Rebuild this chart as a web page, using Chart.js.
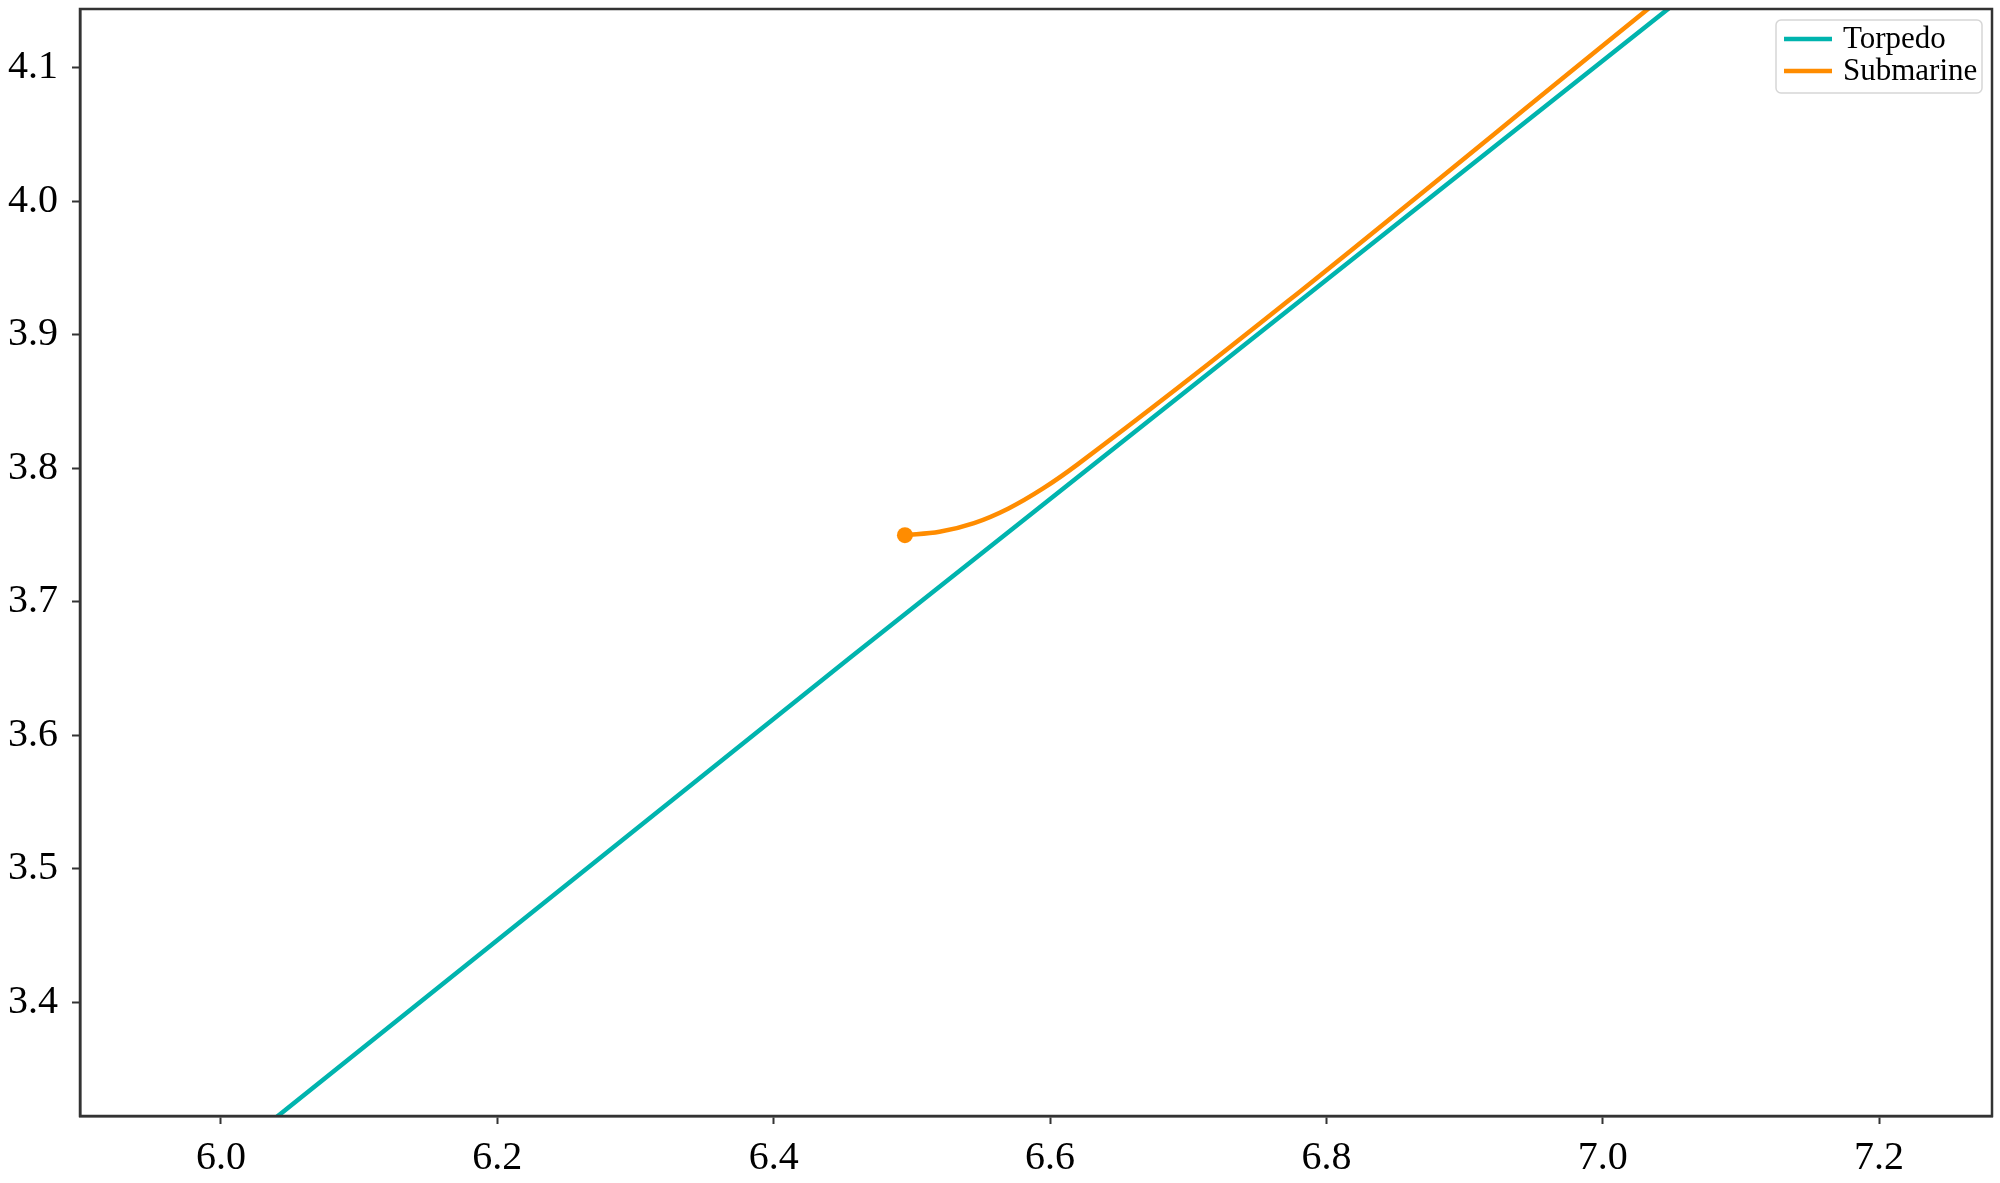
<!DOCTYPE html>
<html>
<head>
<meta charset="utf-8">
<script src="https://cdn.jsdelivr.net/npm/chart.js@4.4.1/dist/chart.umd.min.js"></script>
<style>
    html, body { margin: 0; padding: 0; background: #fff; }
    #wrap { width: 2000px; height: 1183px; position: relative; }
</style>
</head>
<body>
<div id="wrap"><canvas id="track-chart"></canvas></div>
<script>
// data

const torpedoX = [6.005, 6.455, 7.085];
const torpedoY = [3.285, 3.658, 4.175];

const submarineX = [6.495, 6.52, 6.545, 6.57, 6.595, 6.62, 7.076];
const submarineY = [3.750, 3.7525, 3.759, 3.770, 3.785, 3.803, 4.180];

const xTicks = [6.0, 6.2, 6.4, 6.6, 6.8, 7.0, 7.2];
const yTicks = [3.4, 3.5, 3.6, 3.7, 3.8, 3.9, 4.0, 4.1];

const seriesNames = ["Torpedo", "Submarine"];
const teal = '#00b4ae';
const orange = '#ff8c00';
const frameColor = '#333333';
const serif = "'Liberation Serif', 'Times New Roman', serif";

function toPoints(xs, ys) {
    return xs.map((x, i) => ({ x: x, y: ys[i] }));
}

// frame round the plot + legend inside top right
const framePlugin = {
    id: 'frame',
    afterDraw(chart) {
        const ctx = chart.ctx;
        const a = chart.chartArea;
        ctx.save();
        ctx.strokeStyle = frameColor;
        ctx.lineWidth = 2.5;
        ctx.strokeRect(a.left, a.top, a.right - a.left, a.bottom - a.top);

        // legend box
        const boxW = 206, boxH = 73;
        const bx = a.right - 10 - boxW;
        const by = a.top + 11;
        ctx.fillStyle = 'rgba(255,255,255,0.8)';
        ctx.strokeStyle = '#d6d6d6';
        ctx.lineWidth = 1.5;
        ctx.beginPath();
        ctx.roundRect(bx, by, boxW, boxH, 5);
        ctx.fill();
        ctx.stroke();

        ctx.font = '31px ' + serif;
        ctx.textBaseline = 'middle';
        chart.data.datasets.forEach((ds, i) => {
            const cy = by + 19 + i * 32;
            ctx.strokeStyle = ds.borderColor;
            ctx.lineWidth = 4.5;
            ctx.beginPath();
            ctx.moveTo(bx + 8, cy);
            ctx.lineTo(bx + 56, cy);
            ctx.stroke();
            ctx.fillStyle = '#000';
            ctx.fillText(ds.label, bx + 67, cy + 1);
        });
        ctx.restore();
    }
};

const trackCanvas = document.getElementById("track-chart");

let trackChart = new Chart(trackCanvas, {
    type: 'line',
    data: {
        datasets: [{
            label: seriesNames[0],
            data: toPoints(torpedoX, torpedoY),
            borderColor: teal,
            backgroundColor: teal,
            borderWidth: 4.5,
            pointRadius: 0,
            tension: 0
        }, {
            label: seriesNames[1],
            data: toPoints(submarineX, submarineY),
            borderColor: orange,
            backgroundColor: orange,
            borderWidth: 4.5,
            pointRadius: ctx => ctx.dataIndex === 0 ? 8 : 0,
            pointBorderWidth: 0,
            cubicInterpolationMode: 'monotone'
        }]
    },
    options: {
        responsive: true,
        maintainAspectRatio: false,
        animation: false,
        layout: {
            padding: { top: 9, right: 7, left: 0, bottom: 0 }
        },
        scales: {
            x: {
                type: 'linear',
                min: 5.898,
                max: 7.2817,
                afterBuildTicks: scale => {
                    scale.ticks = xTicks.map(v => ({ value: v }));
                },
                afterFit: scale => { scale.height = 67; },
                border: { display: true, color: frameColor, width: 2.5 },
                grid: {
                    display: true,
                    drawOnChartArea: false,
                    drawTicks: true,
                    tickLength: 8,
                    tickWidth: 2,
                    tickColor: frameColor
                },
                ticks: {
                    color: '#000',
                    padding: 10,
                    maxRotation: 0,
                    font: { family: serif, size: 40 },
                    callback: v => v.toFixed(1)
                }
            },
            y: {
                type: 'linear',
                min: 3.315,
                max: 4.144,
                afterBuildTicks: scale => {
                    scale.ticks = yTicks.map(v => ({ value: v }));
                },
                afterFit: scale => {
                    scale.width = 80;
                    scale.paddingTop = 0;
                    scale.paddingBottom = 0;
                },
                border: { display: true, color: frameColor, width: 2.5 },
                grid: {
                    display: true,
                    drawOnChartArea: false,
                    drawTicks: true,
                    tickLength: 8,
                    tickWidth: 2,
                    tickColor: frameColor
                },
                ticks: {
                    color: '#000',
                    padding: 14,
                    font: { family: serif, size: 40 },
                    callback: v => v.toFixed(1)
                }
            }
        },
        plugins: {
            legend: { display: false },
            tooltip: { enabled: false }
        }
    },
    plugins: [framePlugin]
});
</script>
</body>
</html>
